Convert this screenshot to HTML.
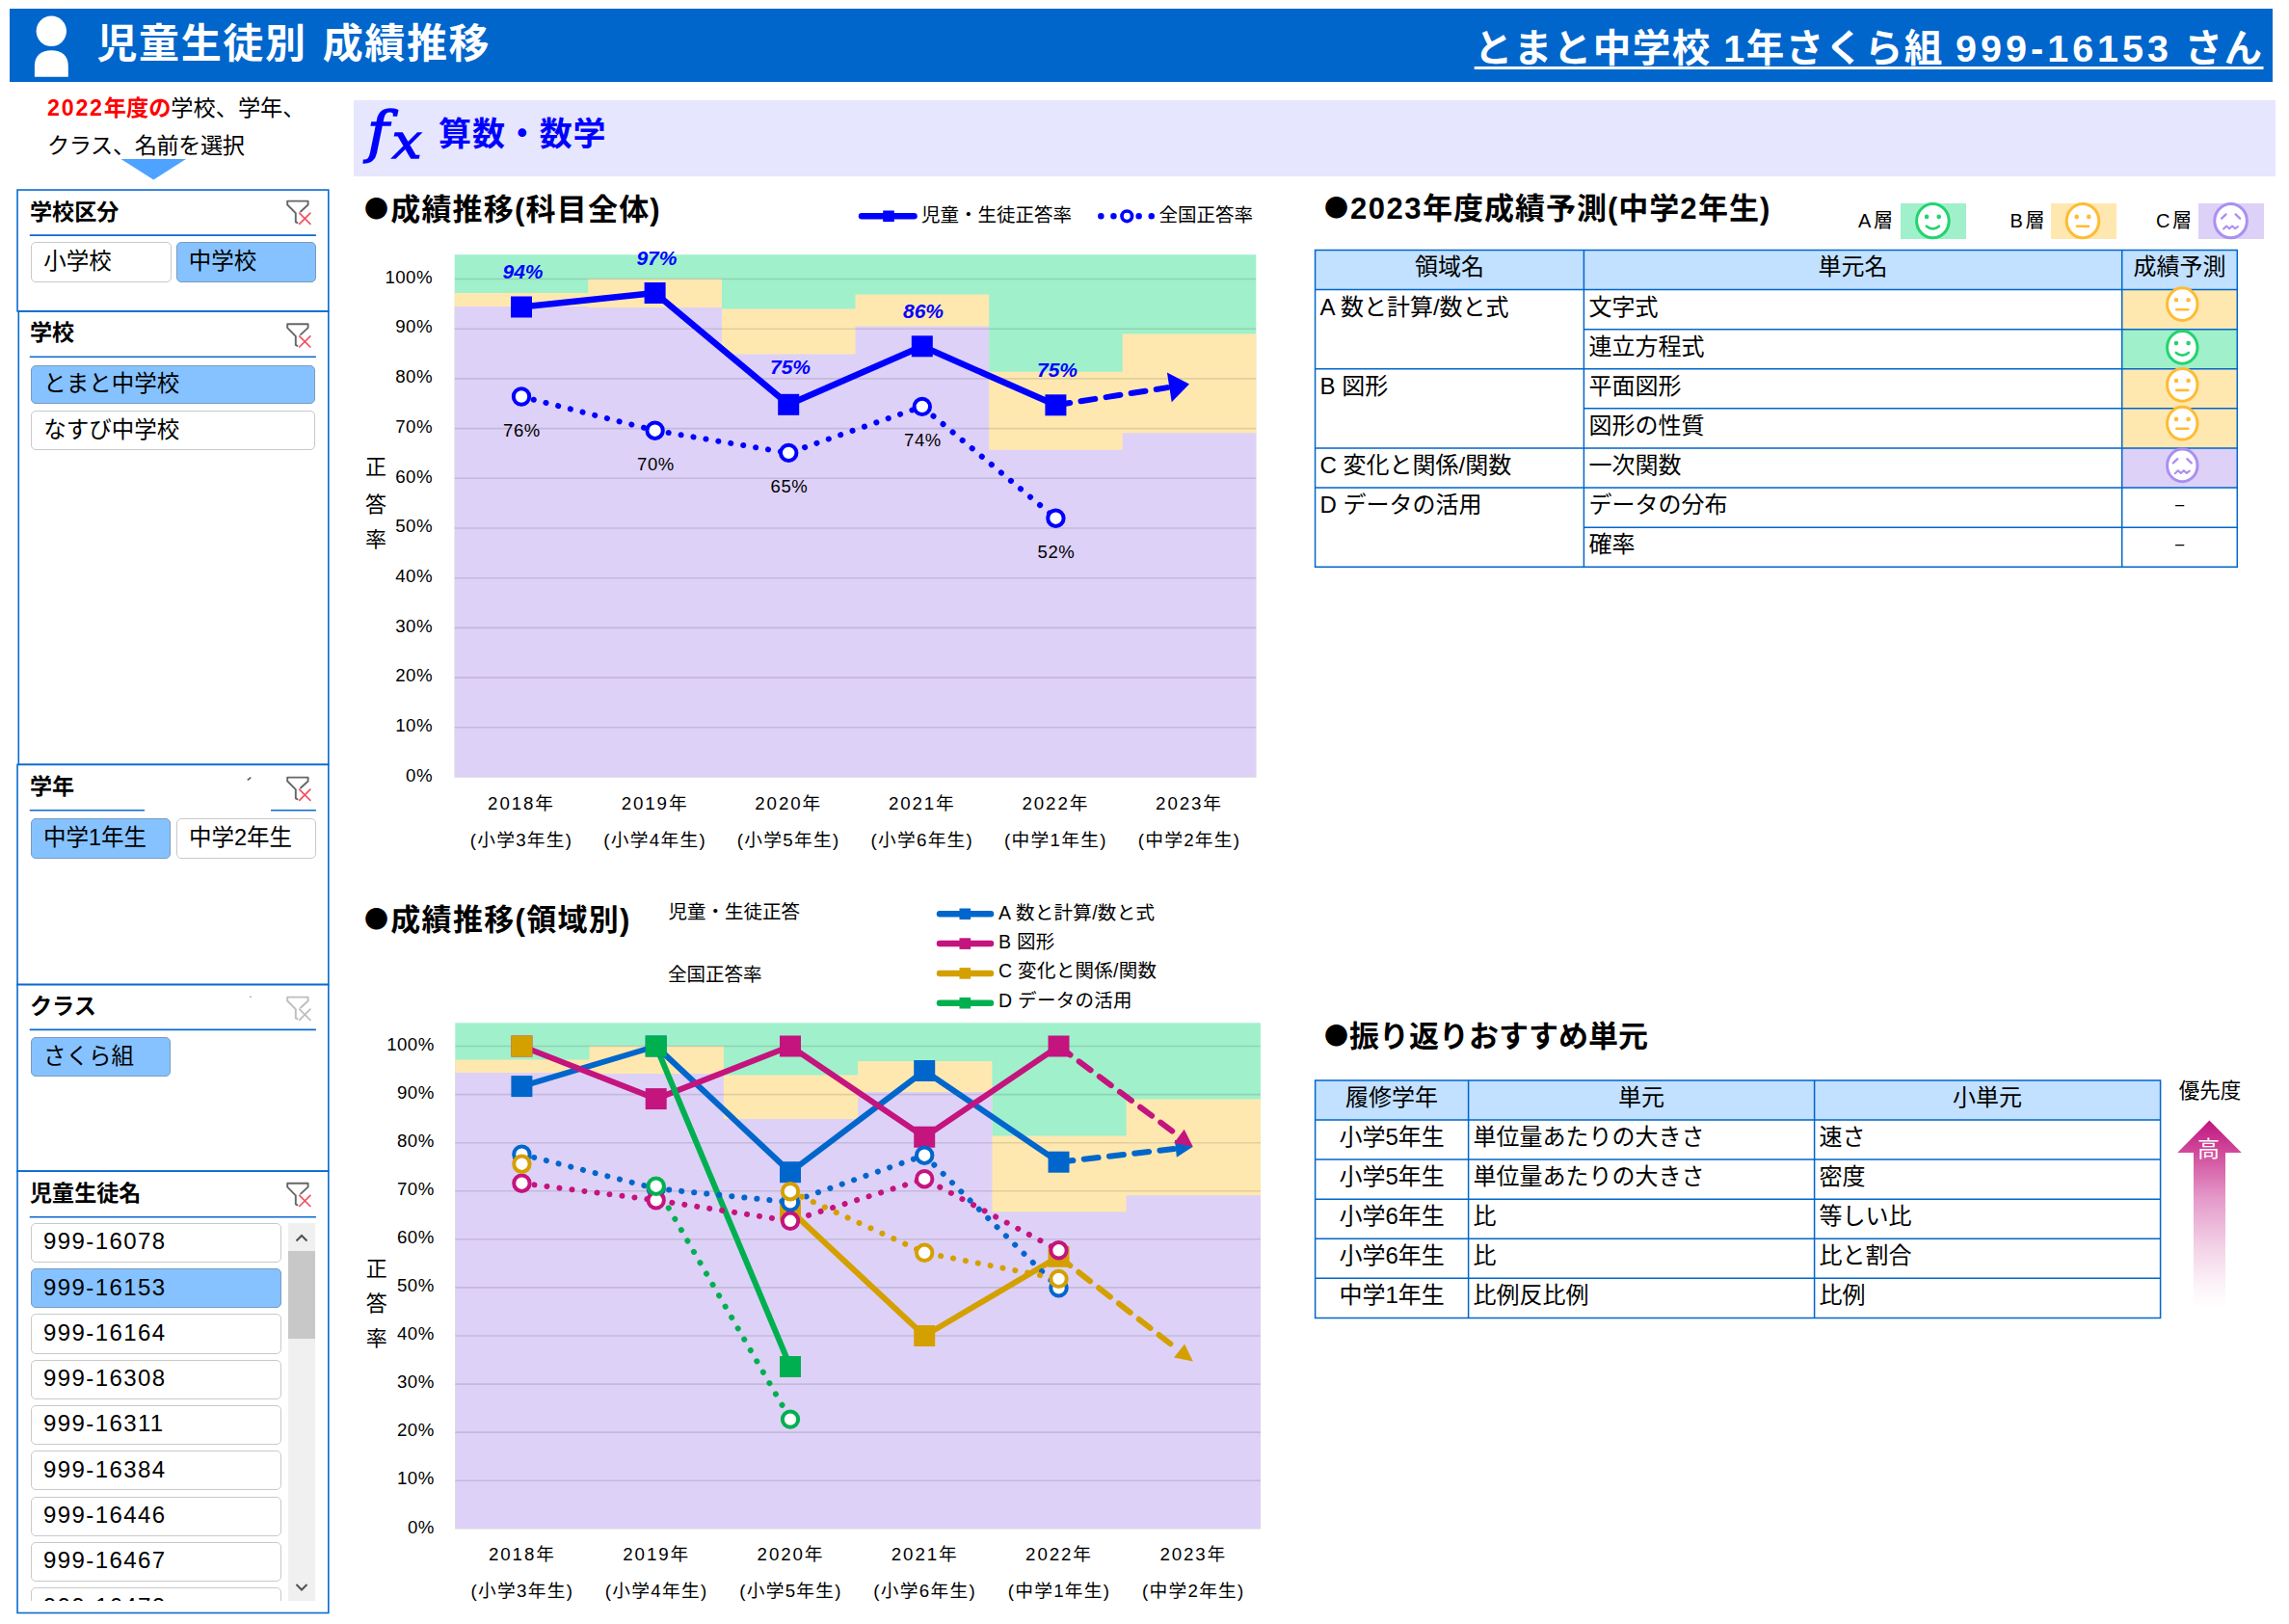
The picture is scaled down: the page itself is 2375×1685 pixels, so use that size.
<!DOCTYPE html><html lang="ja"><head><meta charset="utf-8"><title>児童生徒別 成績推移</title><style>
html,body{margin:0;padding:0;background:#fff;}
body{width:2375px;height:1685px;position:relative;overflow:hidden;font-family:"Liberation Sans","Noto Sans CJK JP",sans-serif;}
.t{position:absolute;white-space:nowrap;}.b{position:absolute;box-sizing:border-box;}
svg{position:absolute;left:0;top:0;overflow:visible;}
svg text{font-family:"Liberation Sans","Noto Sans CJK JP",sans-serif;}
.btn{position:absolute;box-sizing:border-box;border:1.3px solid #c9c9c9;border-radius:5px;background:#fff;}
.btn.sel{background:#85c2ff;border-color:#7a9cc0;}
table{position:absolute;border-collapse:collapse;table-layout:fixed;font-size:24px;}
td,th{border:0;padding:0 0 0 5px;font-weight:normal;text-align:left;vertical-align:top;white-space:nowrap;overflow:hidden;line-height:35px;height:41.1px;box-sizing:border-box;}
th{background:#c2e0ff;text-align:center;padding:0;}
.bl{font-family:"Noto Sans CJK JP",sans-serif;font-size:25px;font-weight:normal;position:relative;top:-2px;margin-right:1px;margin-left:-3px;}
</style></head><body>
<div class="b" style="left:10.0px;top:9.0px;width:2347.6px;height:76.0px;background:#0066cc;"></div>
<svg width="2375" height="100" viewBox="0 0 2375 100"><circle cx="53.3" cy="32.3" r="15.7" fill="#fff"/><path d="M35.9 79.8 V68 C35.9 58 43 52.3 53.3 52.3 C63.7 52.3 70.8 58 70.8 68 V79.8 Z" fill="#fff"/></svg>
<div class="t" style="top:16.3px;height:60px;line-height:60px;font-size:42px;color:#fff;font-weight:bold;letter-spacing:1.6px;left:100.5px;word-spacing:3px;">児童生徒別 成績推移</div>
<div class="t" style="top:19.5px;height:60px;line-height:60px;font-size:39.5px;color:#fff;font-weight:bold;letter-spacing:1.5px;right:26.5px;text-align:right;"><span style="text-decoration:underline;text-decoration-thickness:3.4px;text-underline-offset:5px;">とまと中学校 1年さくら組 <span style="letter-spacing:4px">999-16153</span> さん</span></div>
<div class="b" style="left:367.0px;top:104.0px;width:1994.2px;height:78.6px;background:#e6e6ff;"></div>
<div class="t" style="left:381.3px;top:97.2px;height:80px;line-height:80px;font-size:57px;font-style:italic;color:#0000ff;-webkit-text-stroke:1.5px #0000ff;font-family:'DejaVu Serif','Liberation Serif',serif;transform:scaleX(1.07);transform-origin:left center;">f<span style="font-size:51px;position:relative;top:7px;margin-left:3px">x</span></div>
<div class="t" style="top:114.0px;height:50px;line-height:50px;font-size:34px;color:#0000ff;font-weight:bold;letter-spacing:0.9px;left:455.0px;">算数・数学</div>
<div class="t" style="top:92.5px;height:38px;line-height:38px;font-size:23.2px;color:#000;left:49.0px;"><b style="color:#ff0000"><span style="letter-spacing:1.8px">2022</span>年度の</b>学校、学年、</div>
<div class="t" style="top:131.5px;height:38px;line-height:38px;font-size:23.2px;color:#000;letter-spacing:-0.4px;left:49.0px;">クラス、名前を選択</div>
<svg width="360" height="200" viewBox="0 0 360 200"><path d="M125.5 165 H193 L159.3 186.5 Z" fill="#4da3ff"/></svg>
<div class="t" style="top:202.5px;height:34px;line-height:34px;font-size:23.1px;color:#000;font-weight:bold;left:31.0px;">学校区分</div>
<div class="btn" style="left:32.3px;top:251.3px;width:145.3px;height:41.4px;"></div>
<div class="t" style="top:253.0px;height:36px;line-height:36px;font-size:23.5px;color:#000;left:45.3px;">小学校</div>
<div class="btn sel" style="left:182.8px;top:251.3px;width:145.1px;height:41.4px;"></div>
<div class="t" style="top:253.0px;height:36px;line-height:36px;font-size:23.5px;color:#000;left:195.8px;">中学校</div>
<div class="t" style="top:328.0px;height:34px;line-height:34px;font-size:23.1px;color:#000;font-weight:bold;left:31.0px;">学校</div>
<div class="btn sel" style="left:32.3px;top:378.7px;width:294.5px;height:40.6px;"></div>
<div class="t" style="top:380.0px;height:36px;line-height:36px;font-size:23.5px;color:#000;left:45.3px;">とまと中学校</div>
<div class="btn" style="left:32.3px;top:426.0px;width:294.5px;height:41.1px;"></div>
<div class="t" style="top:427.6px;height:36px;line-height:36px;font-size:23.5px;color:#000;left:45.3px;">なすび中学校</div>
<div class="t" style="top:798.5px;height:34px;line-height:34px;font-size:23.1px;color:#000;font-weight:bold;left:31.0px;">学年</div>
<div class="btn sel" style="left:32.0px;top:849.3px;width:145.4px;height:41.3px;"></div>
<div class="t" style="top:851.0px;height:36px;line-height:36px;font-size:23.5px;color:#000;left:45.0px;">中学1年生</div>
<div class="btn" style="left:183.0px;top:849.3px;width:144.7px;height:41.3px;"></div>
<div class="t" style="top:851.0px;height:36px;line-height:36px;font-size:23.5px;color:#000;left:196.0px;">中学2年生</div>
<div class="t" style="top:1026.5px;height:34px;line-height:34px;font-size:23.1px;color:#000;font-weight:bold;left:31.0px;">クラス</div>
<div class="btn sel" style="left:32.0px;top:1076.0px;width:145.4px;height:41.3px;"></div>
<div class="t" style="top:1077.7px;height:36px;line-height:36px;font-size:23.5px;color:#000;left:45.0px;">さくら組</div>
<div class="t" style="top:1221.2px;height:34px;line-height:34px;font-size:23.1px;color:#000;font-weight:bold;left:31.0px;">児童生徒名</div>
<svg width="360" height="1685" viewBox="0 0 360 1685"><path d="M256.8 809.3 L260.3 806.7" stroke="#555" stroke-width="1.6"/><circle cx="260" cy="1034.3" r="0.8" fill="#888"/></svg>
<svg width="360" height="1685" viewBox="0 0 360 1685"><rect x="18.05" y="197.05" width="322.75" height="125.85" fill="none" stroke="#0a6acf" stroke-width="1.6"/><path d="M30.8 244.10 H327.9" stroke="#0a6acf" stroke-width="1.6" fill="none"/><g transform="translate(297.5,208)" fill="none" stroke-linecap="round" stroke-linejoin="round"><path d="M0.7 0.6 H22.1 V4.5 L14.5 11.5 M0.7 0.6 V4.5 L9.3 13.2 V22.3 L11 23.2" stroke="#666" stroke-width="1.9"/><path d="M13.2 13.2 L24.4 24.4 M24.4 13.2 L13.2 24.4" stroke="#f4505f" stroke-width="1.7"/></g><rect x="19.30" y="322.90" width="321.50" height="470.40" fill="none" stroke="#0a6acf" stroke-width="1.6"/><path d="M30.8 370.20 H327.9" stroke="#0a6acf" stroke-width="1.6" fill="none"/><g transform="translate(297.5,335.6)" fill="none" stroke-linecap="round" stroke-linejoin="round"><path d="M0.7 0.6 H22.1 V4.5 L14.5 11.5 M0.7 0.6 V4.5 L9.3 13.2 V22.3 L11 23.2" stroke="#666" stroke-width="1.9"/><path d="M13.2 13.2 L24.4 24.4 M24.4 13.2 L13.2 24.4" stroke="#f4505f" stroke-width="1.7"/></g><rect x="18.05" y="793.30" width="322.75" height="228.20" fill="none" stroke="#0a6acf" stroke-width="1.6"/><path d="M30.8 840.80 H150 M281 840.80 H327.9" stroke="#0a6acf" stroke-width="1.6" fill="none"/><g transform="translate(297.5,806)" fill="none" stroke-linecap="round" stroke-linejoin="round"><path d="M0.7 0.6 H22.1 V4.5 L14.5 11.5 M0.7 0.6 V4.5 L9.3 13.2 V22.3 L11 23.2" stroke="#666" stroke-width="1.9"/><path d="M13.2 13.2 L24.4 24.4 M24.4 13.2 L13.2 24.4" stroke="#f4505f" stroke-width="1.7"/></g><rect x="18.05" y="1021.50" width="322.75" height="193.60" fill="none" stroke="#0a6acf" stroke-width="1.6"/><path d="M30.8 1068.40 H327.9" stroke="#0a6acf" stroke-width="1.6" fill="none"/><g transform="translate(297.5,1034)" fill="none" stroke-linecap="round" stroke-linejoin="round"><path d="M0.7 0.6 H22.1 V4.5 L14.5 11.5 M0.7 0.6 V4.5 L9.3 13.2 V22.3 L11 23.2" stroke="#bdbdbd" stroke-width="1.9"/><path d="M13.2 13.2 L24.4 24.4 M24.4 13.2 L13.2 24.4" stroke="#bdbdbd" stroke-width="1.7"/></g><rect x="18.05" y="1215.10" width="322.75" height="458.40" fill="none" stroke="#0a6acf" stroke-width="1.6"/><path d="M30.8 1262.80 H327.9" stroke="#0a6acf" stroke-width="1.6" fill="none"/><g transform="translate(297.5,1227.1)" fill="none" stroke-linecap="round" stroke-linejoin="round"><path d="M0.7 0.6 H22.1 V4.5 L14.5 11.5 M0.7 0.6 V4.5 L9.3 13.2 V22.3 L11 23.2" stroke="#666" stroke-width="1.9"/><path d="M13.2 13.2 L24.4 24.4 M24.4 13.2 L13.2 24.4" stroke="#f4505f" stroke-width="1.7"/></g></svg>
<div class="b" style="left:28px;top:1266px;width:302px;height:394.8px;overflow:hidden;">
<div class="btn" style="left:4.3px;top:2.7px;width:260px;height:41.3px;"></div>
<div class="t" style="left:17px;top:4.2px;height:36px;line-height:36px;font-size:24px;letter-spacing:1.4px;">999-16078</div>
<div class="btn sel" style="left:4.3px;top:50.0px;width:260px;height:41.3px;"></div>
<div class="t" style="left:17px;top:51.5px;height:36px;line-height:36px;font-size:24px;letter-spacing:1.4px;">999-16153</div>
<div class="btn" style="left:4.3px;top:97.3px;width:260px;height:41.3px;"></div>
<div class="t" style="left:17px;top:98.8px;height:36px;line-height:36px;font-size:24px;letter-spacing:1.4px;">999-16164</div>
<div class="btn" style="left:4.3px;top:144.6px;width:260px;height:41.3px;"></div>
<div class="t" style="left:17px;top:146.1px;height:36px;line-height:36px;font-size:24px;letter-spacing:1.4px;">999-16308</div>
<div class="btn" style="left:4.3px;top:191.9px;width:260px;height:41.3px;"></div>
<div class="t" style="left:17px;top:193.4px;height:36px;line-height:36px;font-size:24px;letter-spacing:1.4px;">999-16311</div>
<div class="btn" style="left:4.3px;top:239.2px;width:260px;height:41.3px;"></div>
<div class="t" style="left:17px;top:240.7px;height:36px;line-height:36px;font-size:24px;letter-spacing:1.4px;">999-16384</div>
<div class="btn" style="left:4.3px;top:286.5px;width:260px;height:41.3px;"></div>
<div class="t" style="left:17px;top:288.0px;height:36px;line-height:36px;font-size:24px;letter-spacing:1.4px;">999-16446</div>
<div class="btn" style="left:4.3px;top:333.8px;width:260px;height:41.3px;"></div>
<div class="t" style="left:17px;top:335.3px;height:36px;line-height:36px;font-size:24px;letter-spacing:1.4px;">999-16467</div>
<div class="btn" style="left:4.3px;top:381.1px;width:260px;height:41.3px;"></div>
<div class="t" style="left:17px;top:382.6px;height:36px;line-height:36px;font-size:24px;letter-spacing:1.4px;">999-16472</div>
<div class="b" style="left:271.4px;top:2.7px;width:27.2px;height:392.1px;background:#f0f0f0;"></div>
<div class="b" style="left:271.4px;top:32px;width:27.2px;height:90.8px;background:#c8c8c8;"></div>
<svg width="302" height="395" viewBox="0 0 302 395"><path d="M279.5 21.5 L285 16 L290.5 21.5 M279.5 378 L285 383.5 L290.5 378" fill="none" stroke="#505050" stroke-width="2"/></svg>
</div>
<svg width="2375" height="1685" viewBox="0 0 2375 1685"><rect x="471.7" y="264.2" width="831.6" height="542.3" fill="#a0f0cb"/><path d="M471.7 806.5 L471.70 304.0 L610.30 304.0 L610.30 289.5 L748.90 289.5 L748.90 320.5 L887.50 320.5 L887.50 305.5 L1026.10 305.5 L1026.10 385.7 L1164.70 385.7 L1164.70 346.4 L1303.30 346.4 L1303.3 806.5 Z" fill="#ffe8b0"/><path d="M471.7 806.5 L471.70 317.9 L610.30 317.9 L610.30 319.0 L748.90 319.0 L748.90 367.6 L887.50 367.6 L887.50 338.6 L1026.10 338.6 L1026.10 466.8 L1164.70 466.8 L1164.70 449.3 L1303.30 449.3 L1303.3 806.5 Z" fill="#ded1f7"/><line x1="471.7" x2="1303.3" y1="754.8" y2="754.8" stroke="#000" stroke-opacity="0.115" stroke-width="1.6"/><line x1="471.7" x2="1303.3" y1="703.1" y2="703.1" stroke="#000" stroke-opacity="0.115" stroke-width="1.6"/><line x1="471.7" x2="1303.3" y1="651.4" y2="651.4" stroke="#000" stroke-opacity="0.115" stroke-width="1.6"/><line x1="471.7" x2="1303.3" y1="599.7" y2="599.7" stroke="#000" stroke-opacity="0.115" stroke-width="1.6"/><line x1="471.7" x2="1303.3" y1="548.0" y2="548.0" stroke="#000" stroke-opacity="0.115" stroke-width="1.6"/><line x1="471.7" x2="1303.3" y1="496.3" y2="496.3" stroke="#000" stroke-opacity="0.115" stroke-width="1.6"/><line x1="471.7" x2="1303.3" y1="444.6" y2="444.6" stroke="#000" stroke-opacity="0.115" stroke-width="1.6"/><line x1="471.7" x2="1303.3" y1="392.9" y2="392.9" stroke="#000" stroke-opacity="0.115" stroke-width="1.6"/><line x1="471.7" x2="1303.3" y1="341.2" y2="341.2" stroke="#000" stroke-opacity="0.115" stroke-width="1.6"/><line x1="471.7" x2="1303.3" y1="289.5" y2="289.5" stroke="#000" stroke-opacity="0.115" stroke-width="1.6"/><text x="449.0" y="810.7" font-size="18.7" text-anchor="end" letter-spacing="0.45">0%</text><text x="449.0" y="759.0" font-size="18.7" text-anchor="end" letter-spacing="0.45">10%</text><text x="449.0" y="707.3" font-size="18.7" text-anchor="end" letter-spacing="0.45">20%</text><text x="449.0" y="655.6" font-size="18.7" text-anchor="end" letter-spacing="0.45">30%</text><text x="449.0" y="603.9" font-size="18.7" text-anchor="end" letter-spacing="0.45">40%</text><text x="449.0" y="552.2" font-size="18.7" text-anchor="end" letter-spacing="0.45">50%</text><text x="449.0" y="500.5" font-size="18.7" text-anchor="end" letter-spacing="0.45">60%</text><text x="449.0" y="448.8" font-size="18.7" text-anchor="end" letter-spacing="0.45">70%</text><text x="449.0" y="397.1" font-size="18.7" text-anchor="end" letter-spacing="0.45">80%</text><text x="449.0" y="345.4" font-size="18.7" text-anchor="end" letter-spacing="0.45">90%</text><text x="449.0" y="293.7" font-size="18.7" text-anchor="end" letter-spacing="0.45">100%</text><text x="541.0" y="840.4" font-size="18.7" text-anchor="middle" letter-spacing="1.9">2018年</text><text x="541.0" y="878.0" font-size="18.7" text-anchor="middle" letter-spacing="1.3">(小学3年生)</text><text x="679.6" y="840.4" font-size="18.7" text-anchor="middle" letter-spacing="1.9">2019年</text><text x="679.6" y="878.0" font-size="18.7" text-anchor="middle" letter-spacing="1.3">(小学4年生)</text><text x="818.2" y="840.4" font-size="18.7" text-anchor="middle" letter-spacing="1.9">2020年</text><text x="818.2" y="878.0" font-size="18.7" text-anchor="middle" letter-spacing="1.3">(小学5年生)</text><text x="956.8" y="840.4" font-size="18.7" text-anchor="middle" letter-spacing="1.9">2021年</text><text x="956.8" y="878.0" font-size="18.7" text-anchor="middle" letter-spacing="1.3">(小学6年生)</text><text x="1095.4" y="840.4" font-size="18.7" text-anchor="middle" letter-spacing="1.9">2022年</text><text x="1095.4" y="878.0" font-size="18.7" text-anchor="middle" letter-spacing="1.3">(中学1年生)</text><text x="1234.0" y="840.4" font-size="18.7" text-anchor="middle" letter-spacing="1.9">2023年</text><text x="1234.0" y="878.0" font-size="18.7" text-anchor="middle" letter-spacing="1.3">(中学2年生)</text><polyline points="541.0,411.5 679.6,446.7 818.2,469.9 956.8,421.9 1095.4,537.7" fill="none" stroke="#0000ff" stroke-width="6" stroke-linejoin="round" stroke-linecap="round" stroke-dasharray="0.1 13"/><circle cx="541.0" cy="411.5" r="8.2" fill="#fff" stroke="#0000ff" stroke-width="4"/><circle cx="679.6" cy="446.7" r="8.2" fill="#fff" stroke="#0000ff" stroke-width="4"/><circle cx="818.2" cy="469.9" r="8.2" fill="#fff" stroke="#0000ff" stroke-width="4"/><circle cx="956.8" cy="421.9" r="8.2" fill="#fff" stroke="#0000ff" stroke-width="4"/><circle cx="1095.4" cy="537.7" r="8.2" fill="#fff" stroke="#0000ff" stroke-width="4"/><polyline points="541.0,318.5 679.6,304.0 818.2,419.8 956.8,359.3 1095.4,420.3" fill="none" stroke="#0000ff" stroke-width="6.5" stroke-linejoin="round" stroke-linecap="butt"/><line x1="1095.4" y1="420.3" x2="1211.3" y2="402.1" stroke="#0000ff" stroke-width="6" stroke-linecap="round" stroke-dasharray="15 11.4"/><polygon points="1234.0,398.6 1215.7,417.2 1210.9,386.5" fill="#0000ff"/><rect x="530.0" y="307.5" width="22" height="22" fill="#0000ff"/><rect x="668.6" y="293.0" width="22" height="22" fill="#0000ff"/><rect x="807.2" y="408.8" width="22" height="22" fill="#0000ff"/><rect x="945.8" y="348.3" width="22" height="22" fill="#0000ff"/><rect x="1084.4" y="409.3" width="22" height="22" fill="#0000ff"/><text x="542.5" y="289.4" font-size="21" font-weight="bold" font-style="italic" fill="#0000ff" text-anchor="middle">94%</text><text x="681.4" y="275.1" font-size="21" font-weight="bold" font-style="italic" fill="#0000ff" text-anchor="middle">97%</text><text x="820.0" y="388.1" font-size="21" font-weight="bold" font-style="italic" fill="#0000ff" text-anchor="middle">75%</text><text x="958.0" y="329.6" font-size="21" font-weight="bold" font-style="italic" fill="#0000ff" text-anchor="middle">86%</text><text x="1097.0" y="390.6" font-size="21" font-weight="bold" font-style="italic" fill="#0000ff" text-anchor="middle">75%</text><text x="541.5" y="453.0" font-size="18.5" text-anchor="middle" letter-spacing="0.6">76%</text><text x="680.5" y="487.5" font-size="18.5" text-anchor="middle" letter-spacing="0.6">70%</text><text x="819.0" y="511.0" font-size="18.5" text-anchor="middle" letter-spacing="0.6">65%</text><text x="957.5" y="463.0" font-size="18.5" text-anchor="middle" letter-spacing="0.6">74%</text><text x="1096.0" y="578.5" font-size="18.5" text-anchor="middle" letter-spacing="0.6">52%</text><line x1="894" x2="948.5" y1="224.3" y2="224.3" stroke="#0000ff" stroke-width="6.5" stroke-linecap="round"/><rect x="916.2" y="218.5" width="11.6" height="11.6" fill="#0000ff"/><line x1="1142.3" x2="1196" y1="224.3" y2="224.3" stroke="#0000ff" stroke-width="6.4" stroke-linecap="round" stroke-dasharray="0.1 13"/><circle cx="1169.3" cy="224.3" r="5.3" fill="#fff" stroke="#0000ff" stroke-width="3.7"/><text x="956" y="229.5" font-size="19.5">児童・生徒正答率</text><text x="1202.5" y="229.5" font-size="19.5">全国正答率</text><text x="390" y="492.0" font-size="22" text-anchor="middle">正</text><text x="390" y="530.5" font-size="22" text-anchor="middle">答</text><text x="390" y="566.5" font-size="22" text-anchor="middle">率</text><rect x="472.3" y="1061.3" width="835.6" height="525.0" fill="#a0f0cb"/><path d="M472.3 1586.3 L472.30 1099.5 L611.57 1099.5 L611.57 1085.5 L750.83 1085.5 L750.83 1115.5 L890.10 1115.5 L890.10 1101.0 L1029.37 1101.0 L1029.37 1178.6 L1168.63 1178.6 L1168.63 1140.6 L1307.90 1140.6 L1307.9 1586.3 Z" fill="#ffe8b0"/><path d="M472.3 1586.3 L472.30 1113.0 L611.57 1113.0 L611.57 1114.0 L750.83 1114.0 L750.83 1161.1 L890.10 1161.1 L890.10 1133.1 L1029.37 1133.1 L1029.37 1257.3 L1168.63 1257.3 L1168.63 1240.2 L1307.90 1240.2 L1307.9 1586.3 Z" fill="#ded1f7"/><line x1="472.3" x2="1307.9" y1="1536.2" y2="1536.2" stroke="#000" stroke-opacity="0.115" stroke-width="1.6"/><line x1="472.3" x2="1307.9" y1="1486.1" y2="1486.1" stroke="#000" stroke-opacity="0.115" stroke-width="1.6"/><line x1="472.3" x2="1307.9" y1="1436.1" y2="1436.1" stroke="#000" stroke-opacity="0.115" stroke-width="1.6"/><line x1="472.3" x2="1307.9" y1="1386.0" y2="1386.0" stroke="#000" stroke-opacity="0.115" stroke-width="1.6"/><line x1="472.3" x2="1307.9" y1="1335.9" y2="1335.9" stroke="#000" stroke-opacity="0.115" stroke-width="1.6"/><line x1="472.3" x2="1307.9" y1="1285.8" y2="1285.8" stroke="#000" stroke-opacity="0.115" stroke-width="1.6"/><line x1="472.3" x2="1307.9" y1="1235.7" y2="1235.7" stroke="#000" stroke-opacity="0.115" stroke-width="1.6"/><line x1="472.3" x2="1307.9" y1="1185.7" y2="1185.7" stroke="#000" stroke-opacity="0.115" stroke-width="1.6"/><line x1="472.3" x2="1307.9" y1="1135.6" y2="1135.6" stroke="#000" stroke-opacity="0.115" stroke-width="1.6"/><line x1="472.3" x2="1307.9" y1="1085.5" y2="1085.5" stroke="#000" stroke-opacity="0.115" stroke-width="1.6"/><text x="450.8" y="1590.5" font-size="18.7" text-anchor="end" letter-spacing="0.45">0%</text><text x="450.8" y="1540.4" font-size="18.7" text-anchor="end" letter-spacing="0.45">10%</text><text x="450.8" y="1490.3" font-size="18.7" text-anchor="end" letter-spacing="0.45">20%</text><text x="450.8" y="1440.3" font-size="18.7" text-anchor="end" letter-spacing="0.45">30%</text><text x="450.8" y="1390.2" font-size="18.7" text-anchor="end" letter-spacing="0.45">40%</text><text x="450.8" y="1340.1" font-size="18.7" text-anchor="end" letter-spacing="0.45">50%</text><text x="450.8" y="1290.0" font-size="18.7" text-anchor="end" letter-spacing="0.45">60%</text><text x="450.8" y="1239.9" font-size="18.7" text-anchor="end" letter-spacing="0.45">70%</text><text x="450.8" y="1189.9" font-size="18.7" text-anchor="end" letter-spacing="0.45">80%</text><text x="450.8" y="1139.8" font-size="18.7" text-anchor="end" letter-spacing="0.45">90%</text><text x="450.8" y="1089.7" font-size="18.7" text-anchor="end" letter-spacing="0.45">100%</text><text x="541.9" y="1619.4" font-size="18.7" text-anchor="middle" letter-spacing="1.9">2018年</text><text x="541.9" y="1656.6" font-size="18.7" text-anchor="middle" letter-spacing="1.3">(小学3年生)</text><text x="681.2" y="1619.4" font-size="18.7" text-anchor="middle" letter-spacing="1.9">2019年</text><text x="681.2" y="1656.6" font-size="18.7" text-anchor="middle" letter-spacing="1.3">(小学4年生)</text><text x="820.5" y="1619.4" font-size="18.7" text-anchor="middle" letter-spacing="1.9">2020年</text><text x="820.5" y="1656.6" font-size="18.7" text-anchor="middle" letter-spacing="1.3">(小学5年生)</text><text x="959.7" y="1619.4" font-size="18.7" text-anchor="middle" letter-spacing="1.9">2021年</text><text x="959.7" y="1656.6" font-size="18.7" text-anchor="middle" letter-spacing="1.3">(小学6年生)</text><text x="1099.0" y="1619.4" font-size="18.7" text-anchor="middle" letter-spacing="1.9">2022年</text><text x="1099.0" y="1656.6" font-size="18.7" text-anchor="middle" letter-spacing="1.3">(中学1年生)</text><text x="1238.3" y="1619.4" font-size="18.7" text-anchor="middle" letter-spacing="1.9">2023年</text><text x="1238.3" y="1656.6" font-size="18.7" text-anchor="middle" letter-spacing="1.3">(中学2年生)</text><polyline points="541.4,1127.1 680.7,1085.5 820.0,1216.2 959.2,1111.0 1098.5,1205.7" fill="none" stroke="#0066cc" stroke-width="6" stroke-linejoin="round" stroke-linecap="butt"/><polyline points="541.4,1085.5 680.7,1140.1 820.0,1085.5 959.2,1179.7 1098.5,1085.5" fill="none" stroke="#c4147e" stroke-width="6" stroke-linejoin="round" stroke-linecap="butt"/><polyline points="820.0,1255.8 959.2,1386.0 1098.5,1303.8" fill="none" stroke="#d4a000" stroke-width="6" stroke-linejoin="round" stroke-linecap="butt"/><polyline points="680.7,1085.5 820.0,1418.0" fill="none" stroke="#00b050" stroke-width="6" stroke-linejoin="round" stroke-linecap="butt"/><line x1="1098.5" y1="1205.7" x2="1217.9" y2="1192.0" stroke="#0066cc" stroke-width="6" stroke-linecap="round" stroke-dasharray="15 11.4"/><polygon points="1237.8,1189.7 1220.9,1200.7 1218.9,1182.8" fill="#0066cc"/><line x1="1098.5" y1="1085.5" x2="1221.8" y2="1177.7" stroke="#c4147e" stroke-width="6" stroke-linecap="round" stroke-dasharray="15 11.4"/><polygon points="1237.8,1189.7 1218.0,1186.1 1228.7,1171.7" fill="#c4147e"/><line x1="1098.5" y1="1303.8" x2="1222.0" y2="1400.2" stroke="#d4a000" stroke-width="6" stroke-linecap="round" stroke-dasharray="15 11.4"/><polygon points="1237.8,1412.5 1218.0,1408.5 1229.1,1394.4" fill="#d4a000"/><rect x="530.4" y="1116.1" width="22" height="22" fill="#0066cc"/><rect x="669.7" y="1074.5" width="22" height="22" fill="#0066cc"/><rect x="809.0" y="1205.2" width="22" height="22" fill="#0066cc"/><rect x="948.2" y="1100.0" width="22" height="22" fill="#0066cc"/><rect x="1087.5" y="1194.7" width="22" height="22" fill="#0066cc"/><rect x="530.4" y="1074.5" width="22" height="22" fill="#c4147e"/><rect x="669.7" y="1129.1" width="22" height="22" fill="#c4147e"/><rect x="809.0" y="1074.5" width="22" height="22" fill="#c4147e"/><rect x="948.2" y="1168.7" width="22" height="22" fill="#c4147e"/><rect x="1087.5" y="1074.5" width="22" height="22" fill="#c4147e"/><rect x="530.4" y="1074.5" width="22" height="22" fill="#d4a000"/><rect x="809.0" y="1244.8" width="22" height="22" fill="#d4a000"/><rect x="948.2" y="1375.0" width="22" height="22" fill="#d4a000"/><rect x="1087.5" y="1292.8" width="22" height="22" fill="#d4a000"/><rect x="669.7" y="1074.5" width="22" height="22" fill="#00b050"/><rect x="809.0" y="1407.0" width="22" height="22" fill="#00b050"/><polyline points="541.4,1197.7 680.7,1233.2 820.0,1247.3 959.2,1198.7 1098.5,1336.4" fill="none" stroke="#0066cc" stroke-width="6" stroke-linejoin="round" stroke-linecap="round" stroke-dasharray="0.1 13"/><polyline points="541.4,1227.7 680.7,1245.3 820.0,1266.8 959.2,1223.2 1098.5,1297.3" fill="none" stroke="#c4147e" stroke-width="6" stroke-linejoin="round" stroke-linecap="round" stroke-dasharray="0.1 13"/><polyline points="820.0,1236.2 959.2,1299.8 1098.5,1326.9" fill="none" stroke="#d4a000" stroke-width="6" stroke-linejoin="round" stroke-linecap="round" stroke-dasharray="0.1 13"/><polyline points="680.7,1230.7 820.0,1472.6" fill="none" stroke="#00b050" stroke-width="6" stroke-linejoin="round" stroke-linecap="round" stroke-dasharray="0.1 13"/><circle cx="541.4" cy="1197.7" r="8.2" fill="#fff" stroke="#0066cc" stroke-width="4"/><circle cx="680.7" cy="1233.2" r="8.2" fill="#fff" stroke="#0066cc" stroke-width="4"/><circle cx="820.0" cy="1247.3" r="8.2" fill="#fff" stroke="#0066cc" stroke-width="4"/><circle cx="959.2" cy="1198.7" r="8.2" fill="#fff" stroke="#0066cc" stroke-width="4"/><circle cx="1098.5" cy="1336.4" r="8.2" fill="#fff" stroke="#0066cc" stroke-width="4"/><circle cx="541.4" cy="1227.7" r="8.2" fill="#fff" stroke="#c4147e" stroke-width="4"/><circle cx="680.7" cy="1245.3" r="8.2" fill="#fff" stroke="#c4147e" stroke-width="4"/><circle cx="820.0" cy="1266.8" r="8.2" fill="#fff" stroke="#c4147e" stroke-width="4"/><circle cx="959.2" cy="1223.2" r="8.2" fill="#fff" stroke="#c4147e" stroke-width="4"/><circle cx="1098.5" cy="1297.3" r="8.2" fill="#fff" stroke="#c4147e" stroke-width="4"/><circle cx="541.4" cy="1207.7" r="8.2" fill="#fff" stroke="#d4a000" stroke-width="4"/><circle cx="820.0" cy="1236.2" r="8.2" fill="#fff" stroke="#d4a000" stroke-width="4"/><circle cx="959.2" cy="1299.8" r="8.2" fill="#fff" stroke="#d4a000" stroke-width="4"/><circle cx="1098.5" cy="1326.9" r="8.2" fill="#fff" stroke="#d4a000" stroke-width="4"/><circle cx="680.7" cy="1230.7" r="8.2" fill="#fff" stroke="#00b050" stroke-width="4"/><circle cx="820.0" cy="1472.6" r="8.2" fill="#fff" stroke="#00b050" stroke-width="4"/><line x1="975" x2="1028" y1="948.3" y2="948.3" stroke="#0066cc" stroke-width="6.5" stroke-linecap="round"/><rect x="995.5" y="942.5" width="11.6" height="11.6" fill="#0066cc"/><text x="1036" y="953.6" font-size="19.5" letter-spacing="0.3">A 数と計算/数と式</text><line x1="975" x2="1028" y1="979.1" y2="979.1" stroke="#c4147e" stroke-width="6.5" stroke-linecap="round"/><rect x="995.5" y="973.3" width="11.6" height="11.6" fill="#c4147e"/><text x="1036" y="983.9" font-size="19.5" letter-spacing="0.3">B 図形</text><line x1="975" x2="1028" y1="1009.9" y2="1009.9" stroke="#d4a000" stroke-width="6.5" stroke-linecap="round"/><rect x="995.5" y="1004.1" width="11.6" height="11.6" fill="#d4a000"/><text x="1036" y="1014.2" font-size="19.5" letter-spacing="0.3">C 変化と関係/関数</text><line x1="975" x2="1028" y1="1040.7" y2="1040.7" stroke="#00b050" stroke-width="6.5" stroke-linecap="round"/><rect x="995.5" y="1034.9" width="11.6" height="11.6" fill="#00b050"/><text x="1036" y="1044.5" font-size="19.5" letter-spacing="0.3">D データの活用</text><text x="693.5" y="953" font-size="19.5">児童・生徒正答</text><text x="693" y="1018" font-size="19.5">全国正答率</text><text x="390.8" y="1323.7" font-size="22" text-anchor="middle">正</text><text x="390.8" y="1360.0" font-size="22" text-anchor="middle">答</text><text x="390.8" y="1396.4" font-size="22" text-anchor="middle">率</text></svg>
<div class="t" style="top:195.0px;height:44px;line-height:44px;font-size:31px;color:#000;font-weight:bold;letter-spacing:1.2px;left:381.0px;"><span class="bl">●</span>成績推移(科目全体)</div>
<div class="t" style="top:932.0px;height:44px;line-height:44px;font-size:31px;color:#000;font-weight:bold;letter-spacing:1.3px;left:381.0px;"><span class="bl">●</span>成績推移(領域別)</div>
<div class="t" style="top:194.0px;height:44px;line-height:44px;font-size:31px;color:#000;font-weight:bold;letter-spacing:1.0px;left:1377.0px;"><span class="bl">●</span><span style="letter-spacing:1.5px">2023</span>年度成績予測(中学<span style="letter-spacing:1.5px">2</span>年生)</div>
<div class="t" style="top:1053.0px;height:44px;line-height:44px;font-size:31px;color:#000;font-weight:bold;left:1377.0px;"><span class="bl">●</span>振り返りおすすめ単元</div>
<div class="b" style="left:1972.0px;top:211.0px;width:68.0px;height:37.0px;background:#a0f0cb;"></div>
<div class="t" style="top:213.0px;height:32px;line-height:32px;font-size:20px;color:#000;letter-spacing:2.6px;left:1928.0px;">A層</div>
<div class="b" style="left:2127.8px;top:211.0px;width:67.9px;height:37.0px;background:#ffe8b0;"></div>
<div class="t" style="top:213.0px;height:32px;line-height:32px;font-size:20px;color:#000;letter-spacing:2.6px;left:2085.5px;">B層</div>
<div class="b" style="left:2280.8px;top:211.0px;width:68.0px;height:37.0px;background:#ded1f7;"></div>
<div class="t" style="top:213.0px;height:32px;line-height:32px;font-size:20px;color:#000;letter-spacing:2.6px;left:2237.0px;">C層</div>
<svg width="2375" height="700" viewBox="0 0 2375 700"><g transform="translate(2005.4,229.2)" fill="none" stroke="#22d46e" stroke-width="3" stroke-linecap="round" stroke-linejoin="round"><ellipse rx="16.8" ry="17.6" fill="#fff"/><circle cx="-6.3" cy="-4.3" r="1.7" fill="#22d46e" stroke-width="1.2"/><circle cx="6.3" cy="-4.3" r="1.7" fill="#22d46e" stroke-width="1.2"/><path d="M-6.5 5.5 Q0 11 6.5 5.5" stroke-width="2.6"/></g><g transform="translate(2161.0,229.2)" fill="none" stroke="#ffbb33" stroke-width="3" stroke-linecap="round" stroke-linejoin="round"><ellipse rx="16.8" ry="17.6" fill="#fff"/><circle cx="-6.3" cy="-4.3" r="1.7" fill="#ffbb33" stroke-width="1.2"/><circle cx="6.3" cy="-4.3" r="1.7" fill="#ffbb33" stroke-width="1.2"/><path d="M-6 5.6 H6" stroke-width="2.6"/></g><g transform="translate(2314.6,229.2)" fill="none" stroke="#ab8ff0" stroke-width="3" stroke-linecap="round" stroke-linejoin="round"><ellipse rx="16.8" ry="17.6" fill="#fff"/><path d="M-9.5 -2.5 L-5 -6.8 M9.5 -2.5 L5 -6.8" stroke-width="2.3"/><path d="M-7.5 8.3 L-4.5 5.3 L-1.5 8 L1.5 5.3 L4.5 8 L7.5 5.8" stroke-width="2.1"/></g></svg>
<table style="left:1364.55px;top:259.45px;width:956.75px;"><colgroup><col style="width:278.85px"><col style="width:558.3px"><col style="width:119.6px"></colgroup>
<tr><th>領域名</th><th>単元名</th><th>成績予測</th></tr>
<tr><td rowspan="2">A 数と計算/数と式</td><td>文字式</td><td style="background:#ffe8b0;padding:0"></td></tr>
<tr><td>連立方程式</td><td style="background:#a0f0cb;padding:0"></td></tr>
<tr><td rowspan="2">B 図形</td><td>平面図形</td><td style="background:#ffe8b0;padding:0"></td></tr>
<tr><td>図形の性質</td><td style="background:#ffe8b0;padding:0"></td></tr>
<tr><td rowspan="1">C 変化と関係/関数</td><td>一次関数</td><td style="background:#ded1f7;padding:0"></td></tr>
<tr><td rowspan="2">D データの活用</td><td>データの分布</td><td style="text-align:center;padding:0"><span style="font-size:16.5px;position:relative;top:-3.5px">–</span></td></tr>
<tr><td>確率</td><td style="text-align:center;padding:0"><span style="font-size:16.5px;position:relative;top:-3.5px">–</span></td></tr>
</table>
<svg width="2375" height="700" viewBox="0 0 2375 700"><path d="M1364.55 258.70 V589.00 M1643.4 258.70 V589.00 M2201.7 258.70 V589.00 M2321.3 258.70 V589.00 M1364.55 259.45 H2321.3 M1364.55 300.55 H2321.3 M1643.4 341.65 H2321.3 M1364.55 382.75 H2321.3 M1643.4 423.85 H2321.3 M1364.55 464.95 H2321.3 M1364.55 506.05 H2321.3 M1643.4 547.15 H2321.3 M1364.55 588.25 H2321.3 " fill="none" stroke="#0066cc" stroke-width="1.5"/>
<g transform="translate(2264.3,315.6)" fill="none" stroke="#ffbb33" stroke-width="3" stroke-linecap="round" stroke-linejoin="round"><ellipse rx="15.7" ry="16.9" fill="#fff"/><circle cx="-6.3" cy="-4.3" r="1.7" fill="#ffbb33" stroke-width="1.2"/><circle cx="6.3" cy="-4.3" r="1.7" fill="#ffbb33" stroke-width="1.2"/><path d="M-6 5.6 H6" stroke-width="2.6"/></g>
<g transform="translate(2264.3,360.4)" fill="none" stroke="#22d46e" stroke-width="3" stroke-linecap="round" stroke-linejoin="round"><ellipse rx="15.7" ry="16.9" fill="#fff"/><circle cx="-6.3" cy="-4.3" r="1.7" fill="#22d46e" stroke-width="1.2"/><circle cx="6.3" cy="-4.3" r="1.7" fill="#22d46e" stroke-width="1.2"/><path d="M-6.5 5.5 Q0 11 6.5 5.5" stroke-width="2.6"/></g>
<g transform="translate(2264.3,399.3)" fill="none" stroke="#ffbb33" stroke-width="3" stroke-linecap="round" stroke-linejoin="round"><ellipse rx="15.7" ry="16.9" fill="#fff"/><circle cx="-6.3" cy="-4.3" r="1.7" fill="#ffbb33" stroke-width="1.2"/><circle cx="6.3" cy="-4.3" r="1.7" fill="#ffbb33" stroke-width="1.2"/><path d="M-6 5.6 H6" stroke-width="2.6"/></g>
<g transform="translate(2264.3,439.2)" fill="none" stroke="#ffbb33" stroke-width="3" stroke-linecap="round" stroke-linejoin="round"><ellipse rx="15.7" ry="16.9" fill="#fff"/><circle cx="-6.3" cy="-4.3" r="1.7" fill="#ffbb33" stroke-width="1.2"/><circle cx="6.3" cy="-4.3" r="1.7" fill="#ffbb33" stroke-width="1.2"/><path d="M-6 5.6 H6" stroke-width="2.6"/></g>
<g transform="translate(2264.3,482.9)" fill="none" stroke="#ab8ff0" stroke-width="3" stroke-linecap="round" stroke-linejoin="round"><ellipse rx="15.7" ry="16.9" fill="#fff"/><path d="M-9.5 -2.5 L-5 -6.8 M9.5 -2.5 L5 -6.8" stroke-width="2.3"/><path d="M-7.5 8.3 L-4.5 5.3 L-1.5 8 L1.5 5.3 L4.5 8 L7.5 5.8" stroke-width="2.1"/></g>
</svg>
<table style="left:1364.6px;top:1120.9px;width:877px;"><colgroup><col style="width:159px"><col style="width:359px"><col style="width:359px"></colgroup>
<tr><th>履修学年</th><th>単元</th><th>小単元</th></tr>
<tr><td style="text-align:center;padding:0">小学5年生</td><td>単位量あたりの大きさ</td><td>速さ</td></tr>
<tr><td style="text-align:center;padding:0">小学5年生</td><td>単位量あたりの大きさ</td><td>密度</td></tr>
<tr><td style="text-align:center;padding:0">小学6年生</td><td>比</td><td>等しい比</td></tr>
<tr><td style="text-align:center;padding:0">小学6年生</td><td>比</td><td>比と割合</td></tr>
<tr><td style="text-align:center;padding:0">中学1年生</td><td>比例反比例</td><td>比例</td></tr>
</table>
<svg width="2375" height="1685" viewBox="0 0 2375 1685"><path d="M1364.6 1120.15 V1368.13 M1523.6 1120.15 V1368.13 M1882.6 1120.15 V1368.13 M2241.6 1120.15 V1368.13 M1364.6 1120.90 H2241.6 M1364.6 1161.98 H2241.6 M1364.6 1203.06 H2241.6 M1364.6 1244.14 H2241.6 M1364.6 1285.22 H2241.6 M1364.6 1326.30 H2241.6 M1364.6 1367.38 H2241.6 " fill="none" stroke="#0066cc" stroke-width="1.5"/></svg>
<div class="t" style="top:1115.5px;height:32px;line-height:32px;font-size:21.5px;color:#000;left:2233.0px;width:120px;text-align:center;">優先度</div>
<svg width="2375" height="1685" viewBox="0 0 2375 1685"><defs><linearGradient id="ag" x1="0" y1="1162" x2="0" y2="1356" gradientUnits="userSpaceOnUse"><stop offset="0" stop-color="#c0147e"/><stop offset="0.17" stop-color="#d04a9a"/><stop offset="0.42" stop-color="#e59aca"/><stop offset="0.68" stop-color="#f3d2e7"/><stop offset="0.88" stop-color="#fcf2f8"/><stop offset="1" stop-color="#ffffff"/></linearGradient></defs><path d="M2292.4 1162.5 L2325.8 1196 H2309 V1356 H2276 V1196 H2259.2 Z" fill="url(#ag)"/><text x="2291.6" y="1199.7" font-size="23" fill="#fff" text-anchor="middle">高</text></svg>
</body></html>
